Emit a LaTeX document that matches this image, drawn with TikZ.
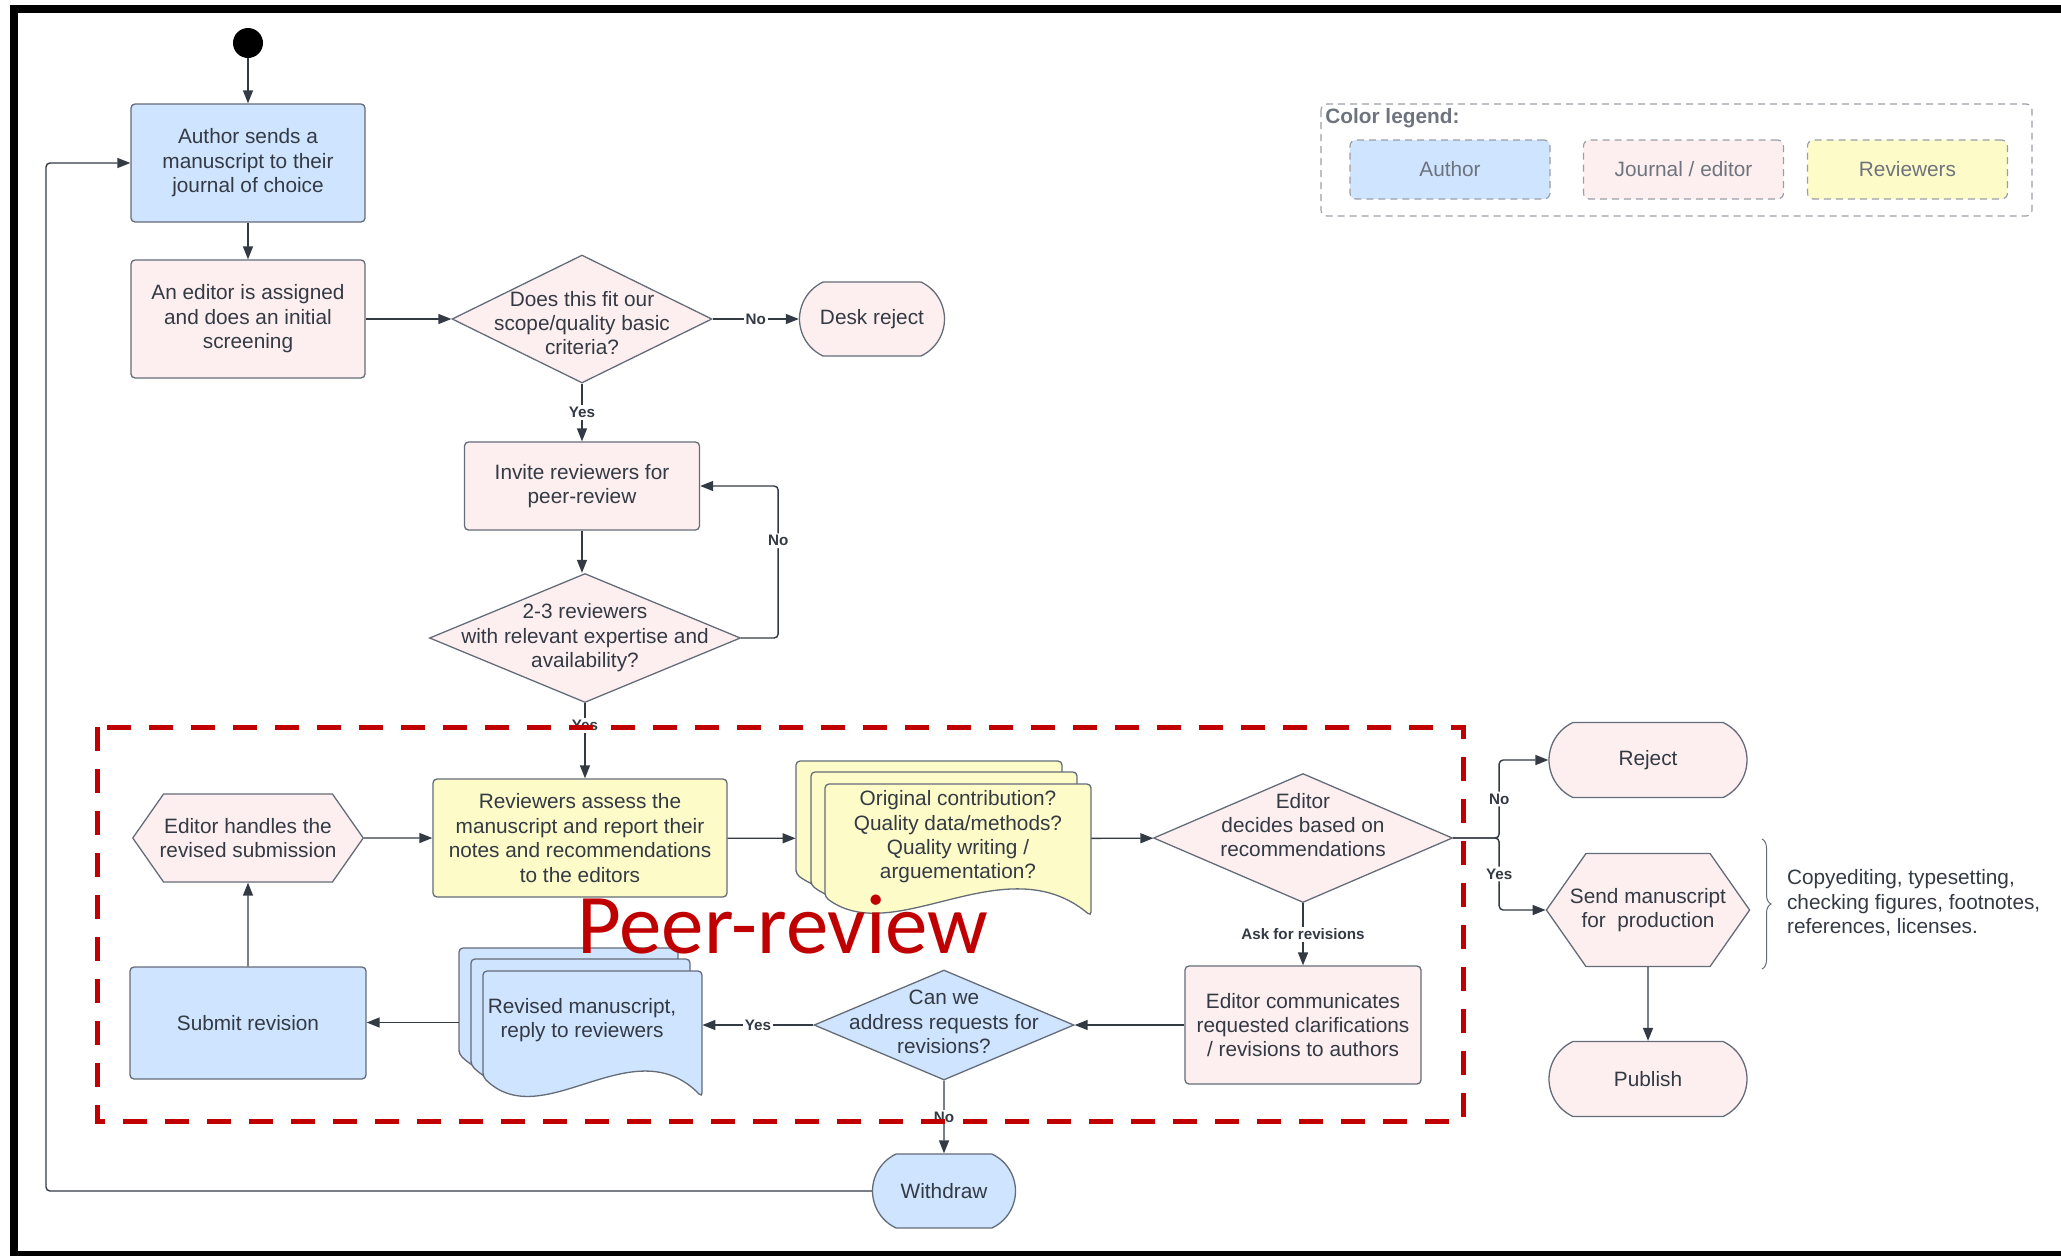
\documentclass[tikz,border=0pt]{standalone}
\usepackage{fontspec}
\setmainfont{Liberation Sans}
\newfontfamily\peerfont{Carlito}
\usetikzlibrary{
  arrows.meta,positioning,calc,
  decorations.pathreplacing,
  shapes.geometric,shapes.misc,shapes.symbols
}
\definecolor{authc}{HTML}{CFE4FF}
\definecolor{jrnc}{HTML}{FDEFEF}
\definecolor{revc}{HTML}{FDFBC8}
\definecolor{rim}{HTML}{646C78}
\definecolor{ink}{HTML}{333A44}
\definecolor{legink}{HTML}{6E747E}
\definecolor{legrim}{HTML}{9A9EA6}
\definecolor{peerred}{HTML}{C00000}
\tikzset{
  txt/.style={font=\fontsize{10.4}{12.2}\selectfont, text=ink, align=center},
  procbox/.style={draw=rim, line width=0.65pt, rounded corners=2pt, inner sep=2pt, txt},
  authbox/.style={procbox, fill=authc},
  jrnbox/.style={procbox, fill=jrnc},
  revbox/.style={procbox, fill=revc},
  decide/.style={diamond, draw=rim, line width=0.65pt, inner sep=0pt},
  endcap/.style={rounded rectangle, rounded rectangle arc length=130, draw=rim,
    line width=0.65pt, inner sep=2pt, txt},
  hexa/.style={signal, signal to=east and west, signal pointer angle=110, draw=rim,
    line width=0.65pt, inner xsep=0pt, inner ysep=2pt, txt},
  sheet/.style={draw=rim, line width=0.65pt, rounded corners=2pt},
  flow/.style={-{Triangle[length=6.5pt,width=5pt]}, line width=0.7pt, draw=ink},
  lbl/.style={font=\fontsize{7.6}{9}\selectfont\bfseries, text=ink, fill=white, inner sep=1pt},
  legbox/.style={draw=legrim, dash pattern=on 3.5pt off 2.5pt, line width=0.6pt,
    rounded corners=3pt, minimum width=100pt, minimum height=29.5pt,
    font=\fontsize{10.4}{12.2}\selectfont, text=legink},
}
\begin{document}
\begin{tikzpicture}[x=0.5pt,y=-0.5pt]
  \useasboundingbox (0,0) rectangle (2061,1255);
  % outer frame
  \draw[line width=4pt] (2070,9) -- (13.5,9) -- (13.5,1255) -- (2070,1255);

  % submission and screening
  \node[circle, fill=black, minimum size=15pt, inner sep=0pt] (start) at (248,43) {};
  \node[authbox, minimum width=117pt, minimum height=59pt] (author) at (248,163)
    {Author sends a\\manuscript to their\\journal of choice};
  \node[jrnbox, minimum width=117pt, minimum height=59pt] (screen) at (248,319)
    {An editor is assigned\\and does an initial\\screening};
  \node[decide, fill=jrnc, minimum width=130pt, minimum height=64pt,
    label={[txt, yshift=-2pt]center:{Does this fit our\\scope/quality basic\\criteria?}}] (fit) at (582,319) {};
  \node[endcap, fill=jrnc, minimum width=76.5pt, minimum height=37pt] (desk) at (872,319) {Desk reject};
  \node[jrnbox, minimum width=117.5pt, minimum height=44pt] (invite) at (582,486)
    {Invite reviewers for\\peer-review};
  \node[decide, fill=jrnc, minimum width=155.5pt, minimum height=64.5pt,
    label={[txt]center:{2-3 reviewers\\with relevant expertise and\\availability?}}] (two) at (585,638) {};

  % review round
  \node[hexa, fill=jrnc, minimum width=115pt, minimum height=44pt, inner xsep=-2pt] (handle) at (248,838)
    {Editor handles the\\revised submission};
  \node[revbox, minimum width=147pt, minimum height=59pt] (revw) at (580,838)
    {Reviewers assess the\\manuscript and report their\\notes and recommendations\\to the editors};
  \foreach \dx/\dy in {0/0,15/11,29/23} {
    \begin{scope}[shift={(796+\dx,761+\dy)}]
      \draw[sheet, fill=revc] (0,113) -- (0,0) -- (266,0) -- (266,132)
        .. controls (180,60) and (70,165) .. (0,113) -- cycle;
    \end{scope}
  }
  \node[minimum width=147.5pt, minimum height=77.5pt, inner sep=0pt] (quest) at (943.5,838.5) {};
  \node[txt] (questtx) at (958,837)
    {Original contribution?\\Quality data/methods?\\Quality writing /\\arguementation?};
  \node[decide, fill=jrnc, minimum width=149.5pt, minimum height=64.5pt,
    label={[txt, yshift=6.5pt]center:{Editor\\decides based on\\recommendations}}] (decides) at (1303,838) {};
  \node[jrnbox, minimum width=118pt, minimum height=59pt] (comm) at (1303,1025)
    {Editor communicates\\requested clarifications\\/ revisions to authors};
  \node[decide, fill=authc, minimum width=130pt, minimum height=55pt,
    label={[txt, yshift=1.5pt]center:{Can we\\address requests for\\revisions?}}] (canwe) at (944,1025) {};
  \foreach \dx/\dy in {0/0,12/11,24/23} {
    \begin{scope}[shift={(459+\dx,948+\dy)}]
      \draw[sheet, fill=authc] (0,106) -- (0,0) -- (219,0) -- (219,126)
        .. controls (150,55) and (60,165) .. (0,106) -- cycle;
    \end{scope}
  }
  \node[minimum width=121.5pt, minimum height=74.5pt, inner sep=0pt] (rsheets) at (580.5,1022.5) {};
  \node[txt] (rsheetstx) at (582,1020) {Revised manuscript,\\reply to reviewers};
  \node[authbox, minimum width=118pt, minimum height=56pt] (submit) at (248,1023) {Submit revision};
  \node[endcap, fill=authc, minimum width=75.5pt, minimum height=37pt] (withdraw) at (944,1191) {Withdraw};
  \coordinate (back) at (46,1191);

  % outcome
  \node[endcap, fill=jrnc, minimum width=103pt, minimum height=37.5pt] (reject) at (1648,760) {Reject};
  \node[hexa, fill=jrnc, minimum width=101pt, minimum height=56.5pt, inner xsep=-8pt] (send) at (1648,910)
    {Send manuscript\\for~ production};
  \node[endcap, fill=jrnc, minimum width=103pt, minimum height=37.5pt] (publish) at (1648,1079) {Publish};
  \draw[rim, line width=0.5pt, decorate, decoration={brace, amplitude=4.5pt}] (1762,839) -- (1762,969);
  \node[txt, align=left, anchor=west] (prodnote) at (1780,903)
    {Copyediting, typesetting,\\checking figures, footnotes,\\references, licenses.};

  % connectors
  \draw[flow] (start) -- (author);
  \draw[flow] (author) -- (screen);
  \draw[flow] (screen) -- (fit);
  \draw[flow] (fit) -- node[lbl]{No} (desk);
  \draw[flow] (fit) -- node[lbl]{Yes} (invite);
  \draw[flow] (invite.south) -- (invite.south |- two.north);
  \draw[flow, rounded corners=2pt] (two.east) -- ++(37,0) |- node[lbl, pos=0.32]{No} (invite.east);
  \draw[flow] (two.south) -- node[lbl, pos=0.3]{Yes} (two.south |- revw.north);
  \draw[flow] (handle) -- (revw);
  \draw[flow] (revw) -- (quest);
  \draw[flow] (quest) -- (decides);
  \draw[flow, rounded corners=2pt] (decides.east) -- ++(46,0) |- node[lbl, pos=0.25]{No} (reject.west);
  \draw[flow, rounded corners=2pt] (decides.east) -- ++(46,0) |- node[lbl, pos=0.25]{Yes} (send.west);
  \draw[flow] (decides) -- node[lbl]{Ask for revisions} (comm);
  \draw[flow] (comm) -- (canwe);
  \draw[flow] (canwe.west) -- node[lbl]{Yes} (canwe.west -| rsheets.east);
  \draw[flow] (rsheets.west) -- (rsheets.west -| submit.east);
  \draw[flow] (submit) -- (handle);
  \draw[flow] (canwe) -- node[lbl]{No} (withdraw);
  \draw[flow, rounded corners=2pt] (withdraw.west) -- (back) |- (author.west);
  \draw[flow] (send) -- (publish);

  % peer-review zone
  \draw[peerred, line width=2.5pt, dash pattern=on 12pt off 9pt] (97,727) rectangle (1463,1121);
  \node[font=\peerfont\fontsize{42.5}{46}\selectfont, text=peerred, anchor=base west, inner sep=0pt]
    (peer) at (577,953) {Peer-review};

  % legend
  \draw[legrim, dash pattern=on 3.5pt off 2.5pt, line width=0.6pt, rounded corners=3pt]
    (1321,104) rectangle (2032,216);
  \node[font=\fontsize{10.4}{12.2}\selectfont\bfseries, text=legink, anchor=west, inner sep=0pt]
    (legtitle) at (1325,118) {Color legend:};
  \foreach \lx/\lc/\lt [count=\i] in {1450/authc/Author, 1683.5/jrnc/{Journal / editor}, 1907.5/revc/Reviewers}
    \node[legbox, fill=\lc] (leg\i) at (\lx,169.5) {\lt};
\end{tikzpicture}
\end{document}
